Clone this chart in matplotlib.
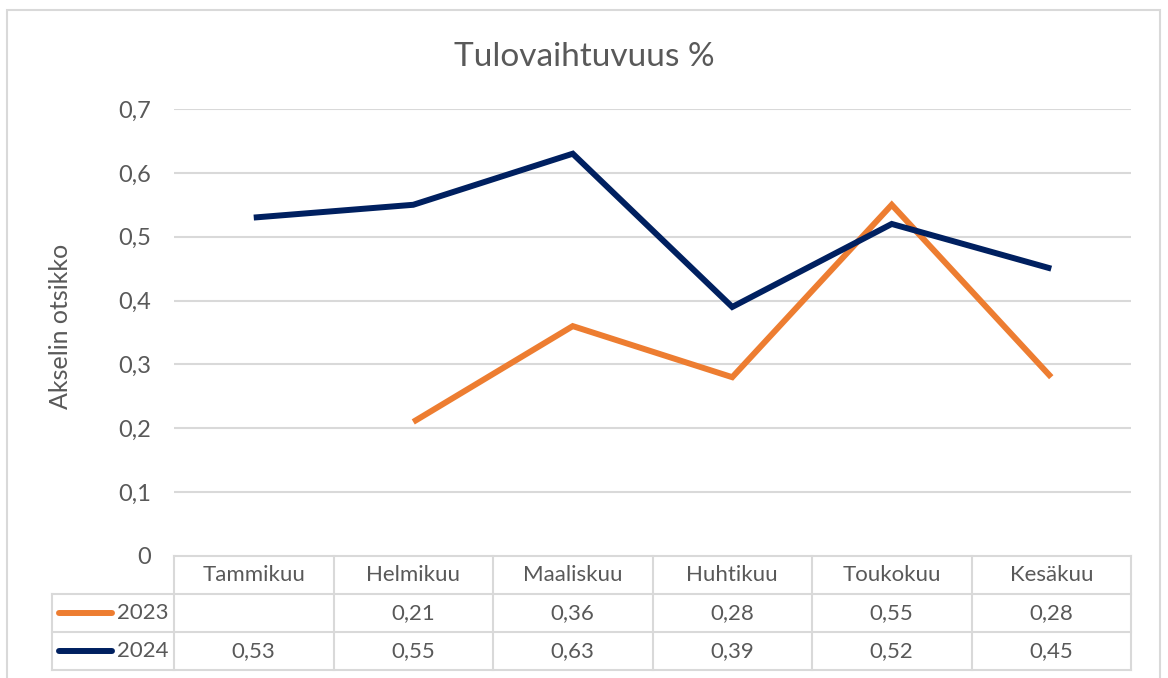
import matplotlib
matplotlib.use("Agg")
import matplotlib.pyplot as plt
import numpy as np
from matplotlib.patches import Rectangle
from matplotlib.lines import Line2D

categories = ["Tammikuu", "Helmikuu", "Maaliskuu", "Huhtikuu", "Toukokuu", "Kesäkuu"]
series_names = ["2023", "2024"]
values_2023 = [np.nan, 0.21, 0.36, 0.28, 0.55, 0.28]
values_2024 = [0.53, 0.55, 0.63, 0.39, 0.52, 0.45]
yticks = [0, 0.1, 0.2, 0.3, 0.4, 0.5, 0.6, 0.7]
colors = ["#ED7D31", "#002060"]
title = "Tulovaihtuvuus %"
ylabel = "Akselin otsikko"

plt.rcParams['font.family'] = ['Lato', 'DejaVu Sans']
TXT = "#595959"
GRID = "#D9D9D9"
FS = 16

W, H = 1168, 678
fig = plt.figure(figsize=(W/100, H/100), dpi=100)

# chart border
fig.patches.append(Rectangle((7/W, -0.05), (1160-7)/W, 1.05 - 10/H, transform=fig.transFigure,
                             fill=False, edgecolor=GRID, linewidth=1.5))

x0, x1 = 174, 1131
ytop, ybot = 109, 556
ax = fig.add_axes([x0/W, 1 - ybot/H, (x1-x0)/W, (ybot-ytop)/H])
ax.set_xlim(-0.5, len(categories) - 0.5)
ax.set_ylim(0, 0.7)
for s in ax.spines.values():
    s.set_visible(False)
ax.set_yticks(yticks)
ax.set_yticklabels([("%g" % t).replace(".", ",") for t in yticks], color=TXT, fontsize=17)
ax.tick_params(axis='y', length=0, pad=16.5)
ax.set_xticks([])
ax.grid(False)
for t in yticks[1:]:
    ax.axhline(t, color=GRID, linewidth=1.5, zorder=1)

xs = np.arange(len(categories))
for vals, c in zip([values_2023, values_2024], colors):
    ax.plot(xs, vals, color=c, linewidth=4.3, solid_joinstyle='miter', solid_capstyle='butt', zorder=3)

fig.text(584/W, 1 - 57/H, title, ha='center', va='center', fontsize=24, color=TXT)
fig.text(60/W, 1 - 326/H, ylabel, rotation=90, ha='center', va='center', fontsize=18, color=TXT)

# data table
colw = (x1 - x0) / len(categories)
rows = [556, 594, 632, 670]
legx0 = 52
tf = fig.transFigure
def fx(p): return p / W
def fy(p): return 1 - p / H
lw = 1.5
fig.add_artist(Line2D([fx(x0), fx(x1)], [fy(rows[0]), fy(rows[0])], color=GRID, lw=lw, transform=tf))
for r in rows[1:]:
    fig.add_artist(Line2D([fx(legx0), fx(x1)], [fy(r), fy(r)], color=GRID, lw=lw, transform=tf))
for i in range(len(categories) + 1):
    xx = x0 + i * colw
    fig.add_artist(Line2D([fx(xx), fx(xx)], [fy(rows[0]), fy(rows[3])], color=GRID, lw=lw, transform=tf))
fig.add_artist(Line2D([fx(legx0), fx(legx0)], [fy(rows[1]), fy(rows[3])], color=GRID, lw=lw, transform=tf))

for i, cat in enumerate(categories):
    cx = x0 + (i + 0.5) * colw
    fig.text(fx(cx), fy((rows[0] + rows[1]) / 2), cat, ha='center', va='center', fontsize=FS, color=TXT)
for r, (name, vals, c) in enumerate(zip(series_names, [values_2023, values_2024], colors)):
    cy = (rows[r + 1] + rows[r + 2]) / 2
    fig.add_artist(Line2D([fx(59), fx(112)], [fy(cy), fy(cy)], color=c, lw=4.3, solid_capstyle='round', transform=tf))
    fig.text(fx(117), fy(cy), name, ha='left', va='center', fontsize=FS, color=TXT)
    for i, v in enumerate(vals):
        if not np.isnan(v):
            cx = x0 + (i + 0.5) * colw
            fig.text(fx(cx), fy(cy), ("%.2f" % v).replace(".", ","), ha='center', va='center', fontsize=FS, color=TXT)

fig.savefig("out.png", dpi=100, facecolor="white")
